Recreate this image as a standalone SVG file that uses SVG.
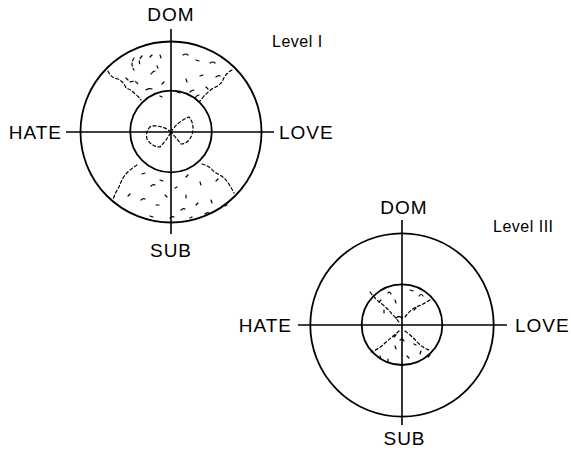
<svg xmlns="http://www.w3.org/2000/svg" width="571" height="450" viewBox="0 0 571 450">
<style>
.c{fill:none;stroke:#000;stroke-width:1.8}
.ax{stroke:#000;stroke-width:1.6}
.t{font-family:"Liberation Sans",Arial,sans-serif;font-size:19px;fill:#000;letter-spacing:1px}
.lv{font-family:"Liberation Sans",Arial,sans-serif;font-size:16px;fill:#000;letter-spacing:0.5px}
.d{fill:none;stroke:#000;stroke-width:1.2;stroke-dasharray:3 2.5;stroke-linecap:round}
.s{fill:none;stroke:#000;stroke-width:1.2;stroke-linecap:round}
</style>
<rect width="571" height="450" fill="#fff"/>
<g id="level1">
<g id="axes1">
<line class="ax" x1="66" y1="132" x2="274" y2="132"/>
<line class="ax" x1="171" y1="29" x2="171" y2="234"/>
</g>
<circle id="outer1" class="c" cx="171" cy="132" r="90.5"/>
<circle id="inner1" class="c" cx="171" cy="131.5" r="40.8"/>
<g id="shade1">
<path class="d" d="M108,71 q3,7 10,8 q6,3 8,9 q6,2 9,6 q4,3 6,6"/>
<path class="d" d="M232,70 q-7,4 -9,10 q-3,6 -10,8 q-5,4 -9,8 q-3,4 -5,6"/>
<path class="d" d="M134,58 q-4,6 0,12 M142,56 q-4,4 -2,9 M130,82 q5,-2 8,2"/>
<path class="d" d="M137,165 q-8,5 -12,10 q-4,6 -6,12 q-4,6 -6,13"/>
<path class="d" d="M202,164 q8,2 12,8 q7,3 12,8 q4,5 8,13"/>
<path class="s" d="M150,57 l2,-2 M160,55 l1,3 M183,55 q3,-2 5,0 M196,60 l3,1 M210,63 q3,-2 5,0 M126,78 l2,2 M151,74 q2,-3 4,-3 M162,84 l2,-2 M186,79 l1,3 M200,76 l3,-1 M216,77 q2,-2 4,-1 M146,90 q3,-2 6,-1 M160,96 l2,1 M190,92 q2,-2 4,-2 M206,87 l2,2 M177,92 l3,1 M195,98 q2,-3 4,-3 M157,66 l1,2"/>
<path class="s" d="M142,174 l3,-1 M151,186 q2,-2 4,-1 M160,180 l3,1 M186,177 l2,-2 M200,182 l1,3 M216,181 l2,-2 M128,196 l2,-2 M141,200 q2,-2 4,-1 M156,205 l3,0 M165,195 l2,2 M181,210 q2,-2 4,-1 M196,205 l2,-2 M211,200 l1,3 M225,206 l2,-1 M150,216 l3,1 M170,218 q2,-2 4,-1 M190,218 l2,-1 M205,214 q2,-2 4,-1 M175,188 l2,-1 M186,195 l0,3"/>
<path class="d" d="M171,132 q-8,-7 -20,-6 q-6,5 -4,13 q5,8 13,8 q6,-6 11,-15"/>
<path class="d" d="M171,132 q7,-11 18,-15 q6,7 3,18 q-4,9 -11,9 q-5,-6 -10,-12"/>
</g>
</g>
<g id="level3">
<g id="axes3">
<line class="ax" x1="298" y1="325" x2="507" y2="325"/>
<line class="ax" x1="402" y1="220" x2="402" y2="425"/>
</g>
<circle id="outer3" class="c" cx="402" cy="325" r="91.7"/>
<circle id="inner3" class="c" cx="402" cy="324.7" r="40.3"/>
<g id="shade3">
<path class="d" d="M370,292 q6,8 12,12 q6,5 10,10 q4,4 7,8"/>
<path class="d" d="M430,300 q-8,5 -14,7 q-7,4 -11,10"/>
<path class="d" d="M399,331 q-7,6 -14,12 q-6,6 -14,9"/>
<path class="d" d="M405,331 q7,5 12,11 q6,6 12,8"/>
<path class="s" d="M379,302 l2,-2 M388,293 q2,-2 3,1 M410,290 l3,1 M419,296 q2,-3 4,0 M384,310 l0,3 M395,300 l1,3 M414,310 l2,-2 M395,346 l1,3 M380,356 l1,3 M388,359 l0,3 M407,356 l2,2 M420,354 l1,-3 M428,357 l2,-2 M400,340 q3,-2 4,1 M396,318 q3,-3 6,0 M394,337 l2,-2 M414,344 l2,1"/>
</g>
</g>
<g id="labels">
<text class="t" x="171" y="21" text-anchor="middle">DOM</text>
<text class="t" x="62" y="139" text-anchor="end">HATE</text>
<text class="t" x="279" y="139">LOVE</text>
<text class="t" x="171" y="257" text-anchor="middle">SUB</text>
<text class="lv" x="272" y="47">Level I</text>
<text class="t" x="404" y="214" text-anchor="middle">DOM</text>
<text class="t" x="292" y="332" text-anchor="end">HATE</text>
<text class="t" x="515" y="332">LOVE</text>
<text class="t" x="404.5" y="445" text-anchor="middle">SUB</text>
<text class="lv" x="493" y="232">Level III</text>
</g>
</svg>
